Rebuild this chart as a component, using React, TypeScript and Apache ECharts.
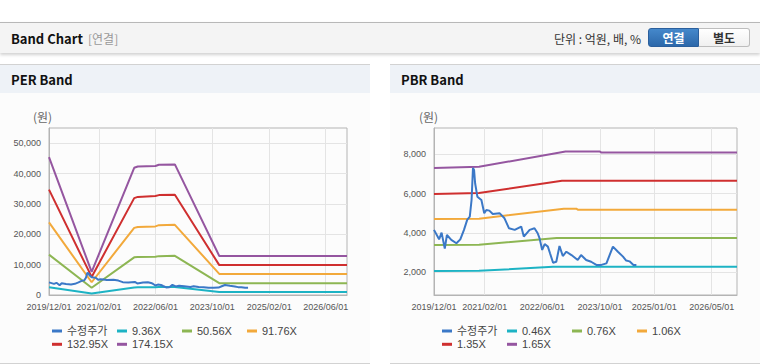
import React, { useEffect, useRef } from 'react';
import * as echarts from 'echarts';

// ---------- data ----------
const colors = ['#3b78c7', '#1db3c4', '#8db653', '#f2a93b', '#cf2f2f', '#9556a0'];

const perNames = ['수정주가', '9.36X', '50.56X', '91.76X', '132.95X', '174.15X'];
const pbrNames = ['수정주가', '0.46X', '0.76X', '1.06X', '1.35X', '1.65X'];

// adjusted price (shared by both charts)
const price: [string, number][] = [
  ['2019-12-01', 4150], ['2020-01-13', 3670], ['2020-02-03', 4010], ['2020-03-01', 3200],
  ['2020-03-19', 3890], ['2020-04-25', 3640], ['2020-06-07', 3470], ['2020-07-10', 3670],
  ['2020-08-10', 4150], ['2020-09-06', 4660], ['2020-09-28', 4820], ['2020-10-13', 5670],
  ['2020-10-25', 7290], ['2020-11-03', 7200], ['2020-11-12', 6520], ['2020-12-01', 5840],
  ['2021-01-04', 5670], ['2021-01-28', 5000], ['2021-02-15', 5160], ['2021-03-12', 5130],
  ['2021-04-10', 4960], ['2021-06-06', 5000], ['2021-07-18', 4740], ['2021-08-25', 4230],
  ['2021-10-12', 4150], ['2021-12-06', 4320], ['2021-12-28', 3810], ['2022-02-15', 4150],
  ['2022-03-28', 4230], ['2022-04-24', 3980], ['2022-05-10', 3720], ['2022-06-01', 3130],
  ['2022-06-22', 3430], ['2022-07-19', 3300], ['2022-08-06', 2960], ['2022-09-01', 2480],
  ['2022-09-28', 2530], ['2022-10-25', 3330], ['2022-11-22', 2820], ['2022-12-22', 3040],
  ['2023-02-03', 2870], ['2023-03-28', 2620], ['2023-04-25', 2870], ['2023-06-07', 2620],
  ['2023-07-19', 2530], ['2023-09-01', 2370], ['2023-10-13', 2370], ['2023-11-25', 2450],
  ['2023-12-22', 2870], ['2024-01-19', 3300], ['2024-03-01', 3040], ['2024-04-13', 2790],
  ['2024-05-10', 2590], ['2024-06-07', 2550], ['2024-07-10', 2370], ['2024-08-04', 2370],
];

// PER bands
const per936: [string, number][] = [
  ['2019-12-01', 2550], ['2020-12-01', 500], ['2021-12-01', 2500], ['2022-01-01', 2550],
  ['2022-06-01', 2580], ['2022-07-01', 2620], ['2022-11-15', 2650], ['2023-12-01', 950], ['2026-12-01', 950],
];
const per5056: [string, number][] = [
  ['2019-12-01', 13300], ['2020-12-01', 2400], ['2021-12-01', 12400], ['2022-01-01', 12500],
  ['2022-06-01', 12600], ['2022-07-01', 12800], ['2022-11-15', 12900], ['2023-12-01', 3900], ['2026-12-01', 3900],
];
const per9176: [string, number][] = [
  ['2019-12-01', 23900], ['2020-12-01', 4200], ['2021-12-01', 22100], ['2022-01-01', 22400],
  ['2022-06-01', 22600], ['2022-07-01', 23000], ['2022-11-15', 23100], ['2023-12-01', 6950], ['2026-12-01', 6950],
];
const per13295: [string, number][] = [
  ['2019-12-01', 34700], ['2020-12-01', 5950], ['2021-12-01', 31900], ['2022-01-01', 32300],
  ['2022-06-01', 32600], ['2022-07-01', 32900], ['2022-11-15', 33000], ['2023-12-01', 9850], ['2026-12-01', 9850],
];
const per17415: [string, number][] = [
  ['2019-12-01', 45400], ['2020-12-01', 7600], ['2021-12-01', 41900], ['2022-01-01', 42300],
  ['2022-06-01', 42500], ['2022-07-01', 42900], ['2022-11-15', 43000], ['2023-12-01', 12850], ['2026-12-01', 12850],
];

// PBR bands
const pbr046: [string, number][] = [
  ['2019-12-01', 2060], ['2020-12-15', 2070], ['2022-09-01', 2270], ['2026-12-01', 2270],
];
const pbr076: [string, number][] = [
  ['2019-12-01', 3380], ['2020-12-15', 3400], ['2022-10-01', 3740], ['2026-12-01', 3740],
];
const pbr106: [string, number][] = [
  ['2019-12-01', 4700], ['2020-12-15', 4720], ['2022-12-01', 5230], ['2023-03-15', 5230],
  ['2023-04-01', 5170], ['2026-12-01', 5170],
];
const pbr135: [string, number][] = [
  ['2019-12-01', 5980], ['2020-12-15', 6020], ['2022-11-15', 6650], ['2026-12-01', 6650],
];
const pbr165: [string, number][] = [
  ['2019-12-01', 7300], ['2020-12-15', 7360], ['2022-12-15', 8130], ['2023-10-01', 8130],
  ['2023-10-15', 8080], ['2026-12-01', 8080],
];

const perXTicks = ['2019-12-01', '2021-02-01', '2022-06-01', '2023-10-01', '2025-02-01', '2026-06-01'];
const pbrXTicks = ['2019-12-01', '2021-02-01', '2022-06-01', '2023-10-01', '2025-01-01', '2026-05-01'];
const xStart = '2019-12-01';
const xEnd = '2026-12-01';
const perYTicks = [0, 10000, 20000, 30000, 40000, 50000];
const pbrYTicks = [2000, 4000, 6000, 8000];

// ---------- helpers ----------
const FONT = '"Liberation Sans", Arial, "Noto Sans CJK KR", sans-serif';
const KFONT = '"Noto Sans CJK KR", "Liberation Sans", sans-serif';

function ts(s: string) {
  const [y, m, d] = s.split('-').map(Number);
  return new Date(y, m - 1, d).getTime();
}
function fmtDate(v: number) {
  const d = new Date(v);
  return `${d.getFullYear()}/${String(d.getMonth() + 1).padStart(2, '0')}/${String(d.getDate()).padStart(2, '0')}`;
}
function fmtNum(v: number) {
  return String(Math.round(v)).replace(/\B(?=(\d{3})+(?!\d))/g, ',');
}

function buildOption(cfg: {
  names: string[];
  bands: [string, number][][];
  xTicks: string[];
  yMin: number;
  yMax: number;
  yTicks: number[];
  gridLeft: number;
  gridWidth: number;
  unitX: number;
}) {
  const series: any[] = cfg.bands.map((arr, i) => ({
    name: cfg.names[i + 1],
    type: 'line',
    data: arr.map(([d, v]) => [ts(d), v]),
    showSymbol: false,
    symbol: 'none',
    lineStyle: { width: 2, color: colors[i + 1] },
    itemStyle: { color: colors[i + 1] },
    z: 2,
  }));
  series.push({
    name: cfg.names[0],
    type: 'line',
    data: price.map(([d, v]) => [ts(d), v]),
    showSymbol: false,
    symbol: 'none',
    lineStyle: { width: 2, color: colors[0] },
    itemStyle: { color: colors[0] },
    z: 3,
  });
  const legendBase = {
    orient: 'horizontal',
    padding: 0,
    itemGap: 6,
    itemWidth: 10,
    itemHeight: 3,
    icon: 'rect',
    textStyle: { fontSize: 11, color: '#444', width: 44, lineHeight: 13, fontFamily: FONT },
  };
  return {
    animation: false,
    grid: {
      left: cfg.gridLeft,
      top: 35,
      width: cfg.gridWidth,
      height: 167,
      show: true,
      borderColor: '#b4b4b4',
      borderWidth: 1,
      backgroundColor: 'transparent',
      outerBoundsMode: 'none',
    },
    legend: [
      { ...legendBase, data: cfg.names.slice(0, 4), left: 52, top: 231.5 },
      { ...legendBase, data: cfg.names.slice(4), left: 52, top: 244.8 },
    ],
    graphic: [
      {
        type: 'text',
        left: cfg.unitX,
        top: 17,
        style: { text: '(원)', fontSize: 12, fill: '#666', fontFamily: KFONT },
      },
    ],
    xAxis: {
      type: 'value',
      min: ts(xStart),
      max: ts(xEnd),
      axisLine: { show: true, lineStyle: { color: '#b4b4b4' } },
      axisTick: { show: false, customValues: cfg.xTicks.map(ts) },
      axisLabel: {
        customValues: cfg.xTicks.map(ts),
        formatter: (v: number) => fmtDate(v),
        fontSize: 9,
        color: '#555',
        margin: 7,
        fontFamily: FONT,
        hideOverlap: false,
      },
      splitLine: { show: true, lineStyle: { color: '#e4e4e4', width: 1 } },
    },
    yAxis: {
      type: 'value',
      min: cfg.yMin,
      max: cfg.yMax,
      axisLine: { show: true, lineStyle: { color: '#b4b4b4' } },
      axisTick: { show: false, customValues: cfg.yTicks },
      axisLabel: {
        customValues: cfg.yTicks,
        formatter: (v: number) => fmtNum(v),
        fontSize: 9,
        color: '#555',
        margin: 8,
        fontFamily: FONT,
      },
      splitLine: { show: true, lineStyle: { color: '#e4e4e4', width: 1 } },
    },
    series,
  };
}

function Chart({ option }: { option: any }) {
  const ref = useRef<HTMLDivElement>(null);
  useEffect(() => {
    if (!ref.current) return;
    const chart = echarts.init(ref.current, null, { renderer: 'svg' });
    chart.setOption(option);
    return () => chart.dispose();
  }, [option]);
  return <div ref={ref} style={{ width: 370, height: 269 }} />;
}

const perOption = buildOption({
  names: perNames,
  bands: [per936, per5056, per9176, per13295, per17415],
  xTicks: perXTicks,
  yMin: 0,
  yMax: 55000,
  yTicks: perYTicks,
  gridLeft: 49,
  gridWidth: 298,
  unitX: 33,
});
const pbrOption = buildOption({
  names: pbrNames,
  bands: [pbr046, pbr076, pbr106, pbr135, pbr165],
  xTicks: pbrXTicks,
  yMin: 840,
  yMax: 9330,
  yTicks: pbrYTicks,
  gridLeft: 44,
  gridWidth: 303,
  unitX: 29,
});

function Panel({ left, title, option }: { left: number; title: string; option: any }) {
  return (
    <div
      style={{
        position: 'absolute',
        left,
        top: 64,
        width: 370,
        height: 298,
        borderTop: '1px solid #d2d2d2',
        borderBottom: '1px solid #d2d2d2',
        background: '#fcfcfc',
      }}
    >
      <div
        style={{
          height: 28,
          background: '#eef2f7',
          paddingLeft: 11,
          lineHeight: '29px',
          fontSize: 13,
          fontWeight: 'bold',
          color: '#111',
          fontFamily: KFONT,
        }}
      >
        {title}
      </div>
      <Chart option={option} />
    </div>
  );
}

export default function App() {
  return (
    <div
      style={{
        position: 'absolute',
        left: 0,
        top: 0,
        width: 760,
        height: 364,
        background: '#ffffff',
        overflow: 'hidden',
        fontFamily: KFONT,
      }}
    >
      <div
        style={{
          position: 'absolute',
          left: 0,
          top: 22,
          width: 760,
          height: 30,
          background: '#f4f4f4',
          borderTop: '1px solid #b8b8b8',
          boxShadow: '0 2px 3px rgba(0,0,0,0.18)',
        }}
      >
        <span
          style={{
            position: 'absolute',
            left: 11,
            top: 0,
            lineHeight: '31px',
            fontSize: 13,
            fontWeight: 'bold',
            color: '#111',
          }}
        >
          Band Chart
        </span>
        <span
          style={{
            position: 'absolute',
            left: 88,
            top: 0,
            lineHeight: '31px',
            fontSize: 12,
            color: '#999',
          }}
        >
          [연결]
        </span>
        <span
          style={{
            position: 'absolute',
            right: 119,
            top: 0,
            lineHeight: '31px',
            fontSize: 12,
            color: '#333',
          }}
        >
          단위 : 억원, 배, %
        </span>
        <div
          style={{
            position: 'absolute',
            left: 648,
            top: 5,
            width: 51,
            height: 19,
            boxSizing: 'border-box',
            background: 'linear-gradient(#4588cb, #2c68aa)',
            border: '1px solid #2b5f9c',
            borderRadius: '3px 0 0 3px',
            color: '#fff',
            fontWeight: 'bold',
            fontSize: 12,
            lineHeight: '17px',
            textAlign: 'center',
          }}
        >
          연결
        </div>
        <div
          style={{
            position: 'absolute',
            left: 699,
            top: 5,
            width: 51,
            height: 19,
            boxSizing: 'border-box',
            background: 'linear-gradient(#ffffff, #f0f0f0)',
            border: '1px solid #bdbdbd',
            borderLeft: 'none',
            borderRadius: '0 3px 3px 0',
            color: '#333',
            fontWeight: 'bold',
            fontSize: 12,
            lineHeight: '17px',
            textAlign: 'center',
          }}
        >
          별도
        </div>
      </div>
      <Panel left={0} title="PER Band" option={perOption} />
      <Panel left={390} title="PBR Band" option={pbrOption} />
    </div>
  );
}
